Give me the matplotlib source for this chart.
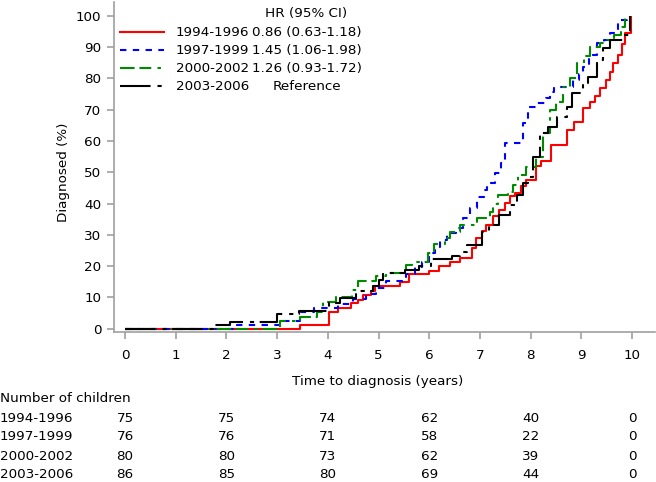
import matplotlib
matplotlib.use("Agg")
import matplotlib.pyplot as plt
from matplotlib.lines import Line2D
from matplotlib.transforms import blended_transform_factory

plt.rcParams['font.family'] = ['DejaVu Sans']
plt.rcParams['lines.scale_dashes'] = False

# ---------------- data ----------------
periods = ["1994-1996", "1997-1999", "2000-2002", "2003-2006"]
hr_text = ["0.86 (0.63-1.18)", "1.45 (1.06-1.98)", "1.26 (0.93-1.72)", "Reference"]

t_9496 = [0, 3.45, 4.02, 4.2, 4.45, 4.6, 4.7, 4.85, 4.93, 5.42, 5.6, 6.0, 6.2, 6.4, 6.6,
          6.85, 6.93, 7.03, 7.12, 7.26, 7.38, 7.5, 7.6, 7.68, 7.8, 7.9, 8.1, 8.2, 8.4,
          8.72, 8.85, 9.03, 9.17, 9.27, 9.37, 9.48, 9.57, 9.63, 9.72, 9.8, 9.86, 9.97]
p_9496 = [0, 1.3, 5.3, 6.7, 8.3, 9.3, 10.9, 12.0, 13.5, 15.0, 17.6, 18.6, 19.9, 21.2, 22.7,
          25.9, 29.0, 31.1, 33.2, 35.9, 38.0, 40.2, 42.3, 43.4, 45.5, 47.6, 51.9, 53.5, 58.8,
          63.6, 66.0, 70.4, 72.5, 74.5, 77.0, 79.6, 82.0, 85.0, 87.4, 91.0, 94.4, 100]

t_9799 = [0, 2.2, 3.05, 3.45, 3.72, 4.2, 4.5, 4.75, 4.95, 5.15, 5.55, 5.72, 5.85, 6.0, 6.12,
          6.22, 6.35, 6.52, 6.66, 6.8, 6.95, 7.07, 7.13, 7.3, 7.42, 7.5, 7.85, 7.95, 8.12,
          8.3, 8.38, 8.45, 8.84, 8.95, 9.04, 9.14, 9.3, 9.45, 9.57, 9.73, 9.9]
p_9799 = [0, 1.3, 2.6, 5.2, 6.7, 8.0, 9.6, 11.0, 13.1, 15.1, 17.5, 19.7, 21.4, 24.1, 26.2,
          28.3, 30.5, 32.3, 35.3, 38.5, 42.0, 44.3, 46.5, 49.6, 52.8, 59.2, 65.6, 70.9, 72.0,
          73.8, 75.7, 77.3, 79.5, 81.5, 83.7, 87.4, 91.2, 92.3, 94.4, 98.6, 100]

t_0002 = [0, 3.05, 3.45, 3.78, 3.9, 4.17, 4.48, 4.6, 4.95, 5.15, 5.55, 5.65, 5.98, 6.1,
          6.3, 6.41, 6.6, 6.94, 7.2, 7.26, 7.36, 7.55, 7.65, 7.75, 7.9, 8.1, 8.25, 8.38,
          8.5, 8.64, 8.78, 8.91, 9.05, 9.17, 9.37, 9.5, 9.65, 9.78, 9.86]
p_0002 = [0, 2.6, 3.8, 5.4, 8.6, 10.2, 12.4, 15.1, 16.7, 17.8, 20.4, 21.3, 24.2, 27.2,
          29.0, 31.0, 33.1, 35.3, 37.4, 40.0, 42.7, 43.8, 45.9, 49.1, 51.8, 55.0, 62.4, 69.9,
          72.5, 77.3, 80.0, 84.8, 87.0, 90.1, 91.2, 92.2, 94.0, 96.5, 100]

t_0306 = [0, 1.78, 2.08, 3.0, 3.44, 4.03, 4.23, 4.56, 4.88, 5.0, 5.08, 5.53, 5.8, 6.03,
          6.45, 6.6, 6.74, 7.03, 7.18, 7.38, 7.6, 7.72, 7.85, 7.95, 8.05, 8.18, 8.35, 8.52,
          8.72, 8.82, 9.03, 9.13, 9.3, 9.42, 9.57, 9.82, 9.96]
p_0306 = [0, 1.2, 2.3, 4.7, 5.8, 8.2, 9.8, 11.9, 13.5, 15.7, 17.8, 18.8, 20.0, 22.4,
          23.3, 24.6, 26.7, 31.0, 33.1, 36.3, 39.5, 42.7, 46.5, 48.5, 55.0, 62.4, 64.5, 67.7,
          70.9, 75.2, 78.4, 80.5, 85.8, 89.7, 92.2, 93.8, 100]

risk_times = [0, 2, 4, 6, 8, 10]
risk_9496 = [75, 75, 74, 62, 40, 0]
risk_9799 = [76, 76, 71, 58, 22, 0]
risk_0002 = [80, 80, 73, 62, 39, 0]
risk_0306 = [86, 85, 80, 69, 44, 0]

xticks = list(range(0, 11))
yticks = list(range(0, 101, 10))

# ---------------- styles ----------------
colors = ["#ff0000", "#0000ff", "#008a00", "#000000"]
styles = ["-", (0, (4.6, 4.6)), (0, (10.5, 3.5, 8.5, 4.5, 2.5, 3.5)), (0, (22, 5, 3, 4))]
curves = [(t_9496, p_9496), (t_9799, p_9799), (t_0002, p_0002), (t_0306, p_0306)]
risks = [risk_9496, risk_9799, risk_0002, risk_0306]

W, H = 656, 482
FS = 9.7
fig = plt.figure(figsize=(W / 100, H / 100), dpi=100)

def fx(px):
    return px / W

def fy(py):
    return 1 - py / H

ax = fig.add_axes([fx(114), fy(332), (655 - 114) / W, (332 - 2) / H])

for (t, p), c, ls in zip(curves, colors, styles):
    ax.step(t, p, where='post', color=c, linestyle=ls, linewidth=1.5,
            solid_capstyle='butt', dash_capstyle='butt')

ax.set_xlim(-0.217, 10.45)
ax.set_ylim(-1.05, 104.4)
ax.set_xticks(xticks)
ax.set_yticks(yticks)
for s in ['top', 'right']:
    ax.spines[s].set_visible(False)
spine_col = "#a0a0a0"
for s in ['left', 'bottom']:
    ax.spines[s].set_color(spine_col)
    ax.spines[s].set_linewidth(1.2)
ax.tick_params(axis='both', colors=spine_col, length=5, width=1.2, labelcolor='black',
               labelsize=FS)
ax.tick_params(axis='x', pad=7)
ax.tick_params(axis='y', pad=4)

fig.text(fx(378), fy(381), "Time to diagnosis (years)", ha='center', va='center', fontsize=FS)
fig.text(fx(64), fy(172), "Diagnosed (%)", ha='center', va='center', rotation=90, fontsize=FS)

# legend (manual)
fig.text(fx(306.5), fy(14), "HR (95% CI)", ha='center', va='center', fontsize=FS)
for i, (lab, hr, c, ls) in enumerate(zip(periods, hr_text, colors, styles)):
    yy = 32.3 + 18.0 * i
    fig.add_artist(Line2D([fx(120), fx(164)], [fy(yy), fy(yy)], color=c, linestyle=ls,
                          linewidth=1.5, transform=fig.transFigure, dash_capstyle='butt'))
    fig.text(fx(176), fy(yy), lab, ha='left', va='center', fontsize=FS)
    fig.text(fx(306.5), fy(yy), hr, ha='center', va='center', fontsize=FS)

# number at risk table
trans = blended_transform_factory(ax.transData, fig.transFigure)
fig.text(fx(0), fy(398), "Number of children", ha='left', va='center', fontsize=FS)
for i, (lab, r) in enumerate(zip(periods, risks)):
    yy = 418 + 19.0 * i
    fig.text(fx(0), fy(yy), lab, ha='left', va='center', fontsize=FS)
    for tt, n in zip(risk_times, r):
        ax.text(tt, fy(yy), str(n), transform=trans, ha='center', va='center',
                fontsize=FS, clip_on=False)

fig.savefig("out.png", dpi=100)
